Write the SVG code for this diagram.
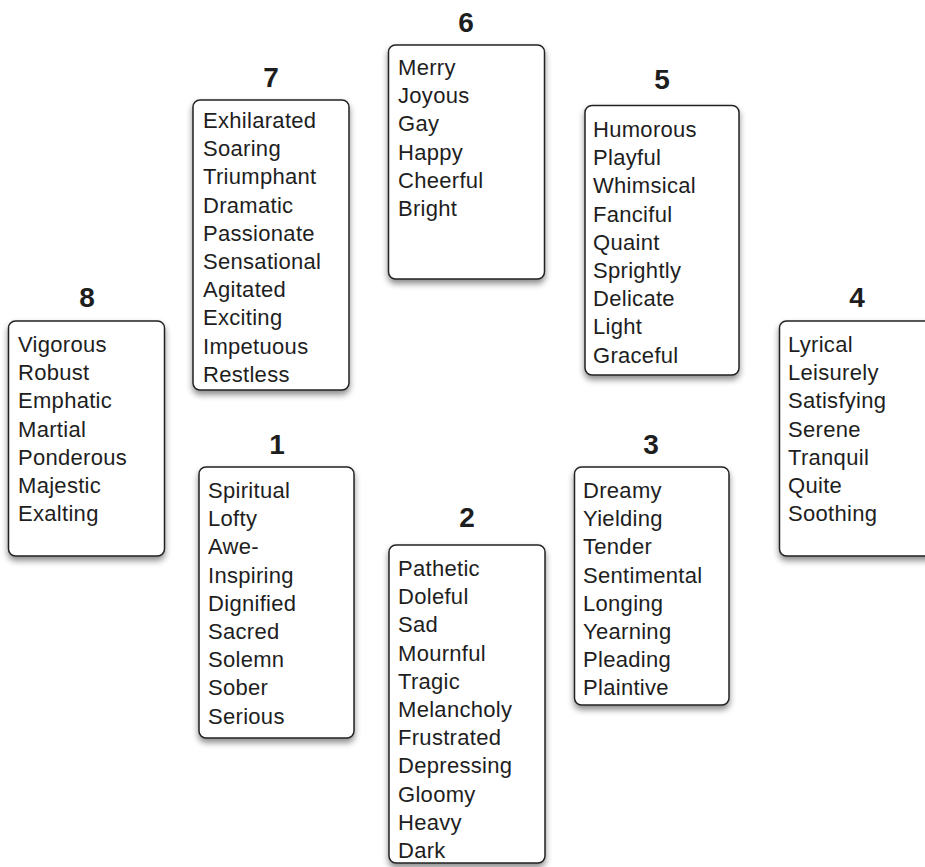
<svg xmlns="http://www.w3.org/2000/svg" width="925" height="867" viewBox="0 0 925 867">
<defs>
<filter id="sh" x="-20%" y="-20%" width="140%" height="140%">
<feDropShadow dx="0" dy="4" stdDeviation="3" flood-color="#000" flood-opacity="0.45"/>
</filter>
<style>
.box{fill:#fff;stroke:#222;stroke-width:1.5;filter:url(#sh)}
.t{font-family:"Liberation Sans",Arial,sans-serif;font-size:22px;fill:#1e1e1e;letter-spacing:0.3px}
.n{font-family:"Liberation Sans",Arial,sans-serif;font-size:28px;font-weight:bold;fill:#1e1e1e;text-anchor:middle}
</style>
</defs>
<rect width="925" height="867" fill="#fff"/>
<g id="connectors"/>
<g id="node6">
<rect class="box" x="388.5" y="45" width="156" height="234" rx="7"/>
<text class="n" x="466" y="32">6</text>
<text class="t" x="398" y="75">Merry<tspan x="398" dy="28.2">Joyous</tspan><tspan x="398" dy="28.2">Gay</tspan><tspan x="398" dy="28.2">Happy</tspan><tspan x="398" dy="28.2">Cheerful</tspan><tspan x="398" dy="28.2">Bright</tspan></text>
</g>
<g id="node7">
<rect class="box" x="193" y="100" width="156" height="290" rx="7"/>
<text class="n" x="271" y="87">7</text>
<text class="t" x="203" y="128">Exhilarated<tspan x="203" dy="28.2">Soaring</tspan><tspan x="203" dy="28.2">Triumphant</tspan><tspan x="203" dy="28.2">Dramatic</tspan><tspan x="203" dy="28.2">Passionate</tspan><tspan x="203" dy="28.2">Sensational</tspan><tspan x="203" dy="28.2">Agitated</tspan><tspan x="203" dy="28.2">Exciting</tspan><tspan x="203" dy="28.2">Impetuous</tspan><tspan x="203" dy="28.2">Restless</tspan></text>
</g>
<g id="node5">
<rect class="box" x="585" y="105.5" width="154" height="269.5" rx="7"/>
<text class="n" x="662" y="89">5</text>
<text class="t" x="593" y="137">Humorous<tspan x="593" dy="28.2">Playful</tspan><tspan x="593" dy="28.2">Whimsical</tspan><tspan x="593" dy="28.2">Fanciful</tspan><tspan x="593" dy="28.2">Quaint</tspan><tspan x="593" dy="28.2">Sprightly</tspan><tspan x="593" dy="28.2">Delicate</tspan><tspan x="593" dy="28.2">Light</tspan><tspan x="593" dy="28.2">Graceful</tspan></text>
</g>
<g id="node8">
<rect class="box" x="8.5" y="321" width="156" height="235" rx="7"/>
<text class="n" x="87" y="307">8</text>
<text class="t" x="18" y="352">Vigorous<tspan x="18" dy="28.2">Robust</tspan><tspan x="18" dy="28.2">Emphatic</tspan><tspan x="18" dy="28.2">Martial</tspan><tspan x="18" dy="28.2">Ponderous</tspan><tspan x="18" dy="28.2">Majestic</tspan><tspan x="18" dy="28.2">Exalting</tspan></text>
</g>
<g id="node4">
<rect class="box" x="779.5" y="321" width="160" height="235" rx="7"/>
<text class="n" x="857" y="307">4</text>
<text class="t" x="788" y="352">Lyrical<tspan x="788" dy="28.2">Leisurely</tspan><tspan x="788" dy="28.2">Satisfying</tspan><tspan x="788" dy="28.2">Serene</tspan><tspan x="788" dy="28.2">Tranquil</tspan><tspan x="788" dy="28.2">Quite</tspan><tspan x="788" dy="28.2">Soothing</tspan></text>
</g>
<g id="node1">
<rect class="box" x="199" y="467" width="155" height="271" rx="7"/>
<text class="n" x="277" y="454">1</text>
<text class="t" x="208" y="498">Spiritual<tspan x="208" dy="28.2">Lofty</tspan><tspan x="208" dy="28.2">Awe-</tspan><tspan x="208" dy="28.2">Inspiring</tspan><tspan x="208" dy="28.2">Dignified</tspan><tspan x="208" dy="28.2">Sacred</tspan><tspan x="208" dy="28.2">Solemn</tspan><tspan x="208" dy="28.2">Sober</tspan><tspan x="208" dy="28.2">Serious</tspan></text>
</g>
<g id="node3">
<rect class="box" x="574.5" y="467" width="154.5" height="238" rx="7"/>
<text class="n" x="651" y="454">3</text>
<text class="t" x="583" y="498">Dreamy<tspan x="583" dy="28.2">Yielding</tspan><tspan x="583" dy="28.2">Tender</tspan><tspan x="583" dy="28.2">Sentimental</tspan><tspan x="583" dy="28.2">Longing</tspan><tspan x="583" dy="28.2">Yearning</tspan><tspan x="583" dy="28.2">Pleading</tspan><tspan x="583" dy="28.2">Plaintive</tspan></text>
</g>
<g id="node2">
<rect class="box" x="389" y="545" width="156" height="318" rx="7"/>
<text class="n" x="467" y="527">2</text>
<text class="t" x="398" y="576">Pathetic<tspan x="398" dy="28.2">Doleful</tspan><tspan x="398" dy="28.2">Sad</tspan><tspan x="398" dy="28.2">Mournful</tspan><tspan x="398" dy="28.2">Tragic</tspan><tspan x="398" dy="28.2">Melancholy</tspan><tspan x="398" dy="28.2">Frustrated</tspan><tspan x="398" dy="28.2">Depressing</tspan><tspan x="398" dy="28.2">Gloomy</tspan><tspan x="398" dy="28.2">Heavy</tspan><tspan x="398" dy="28.2">Dark</tspan></text>
</g>
</svg>
